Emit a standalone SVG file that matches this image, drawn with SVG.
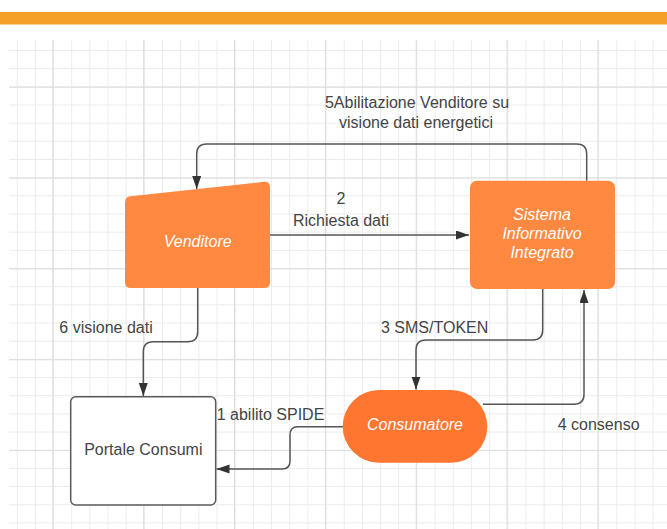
<svg xmlns="http://www.w3.org/2000/svg" width="667" height="529" viewBox="0 0 667 529">
  <style>
    .lbl { font-family: "Liberation Sans", Arial, sans-serif; font-size: 16px; fill: #444444; }
    .node-txt { font-family: "Liberation Sans", Arial, sans-serif; font-size: 16px; font-style: italic; fill: #ffffff; text-anchor: middle; }
    .edge { fill: none; stroke: #555555; stroke-width: 1.5; marker-end: url(#arrow); }
    .proc { fill: #ff8940; }
  </style>
  <defs>
    <pattern id="minor" x="16.7" y="50" width="18.17" height="18.17" patternUnits="userSpaceOnUse">
      <rect x="0" y="0" width="1" height="18.17" fill="#ebebeb"/>
      <rect x="0" y="0" width="18.17" height="1" fill="#ebebeb"/>
    </pattern>
    <pattern id="major" x="52.3" y="86.7" width="90.85" height="90.85" patternUnits="userSpaceOnUse">
      <rect x="0" y="0" width="1" height="90.85" fill="#dcdcdc"/>
      <rect x="0" y="0" width="90.85" height="1" fill="#dcdcdc"/>
    </pattern>
    <marker id="arrow" markerUnits="userSpaceOnUse" markerWidth="14" markerHeight="10" refX="13" refY="4.5" orient="auto">
      <path d="M0,0 L13,4.5 L0,9 Z" fill="#333333"/>
    </marker>
  </defs>

  <!-- page background, header band and grid -->
  <rect x="0" y="0" width="667" height="529" fill="#ffffff"/>
  <rect x="0" y="12" width="667" height="12.5" fill="#f5a129"/>
  <rect x="9" y="40" width="658" height="489" fill="url(#minor)"/>
  <rect x="9" y="40" width="658" height="489" fill="url(#major)"/>

  <!-- connectors -->
  <g id="connectors">
    <path class="edge" d="M586.7,180.7 V154 Q586.7,144 576.7,144 H206.7 Q196.7,144 196.7,154 V189"/>
    <path class="edge" d="M270,235 H469"/>
    <path class="edge" d="M197.7,288 V331.7 Q197.7,341.7 187.7,341.7 H153.3 Q143.3,341.7 143.3,351.7 V396"/>
    <path class="edge" d="M542.7,289 V330 Q542.7,340 532.7,340 H426 Q416,340 416,350 V389.5"/>
    <path class="edge" d="M483,404.3 H574 Q584,404.3 584,394.3 V290"/>
    <path class="edge" d="M343,426.7 H298 Q290,426.7 290,434.7 V461 Q290,469 282,469 H216.5"/>
  </g>

  <!-- connector labels -->
  <g id="labels">
    <text class="lbl" x="417" y="108" text-anchor="middle">5Abilitazione Venditore su</text>
    <text class="lbl" x="416" y="128" text-anchor="middle">visione dati energetici</text>
    <text class="lbl" x="341" y="203.5" text-anchor="middle">2</text>
    <text class="lbl" x="341" y="225.5" text-anchor="middle">Richiesta dati</text>
    <text class="lbl" x="59.3" y="333">6 visione dati</text>
    <text class="lbl" x="381" y="333">3 SMS/TOKEN</text>
    <text class="lbl" x="216.7" y="419.5">1 abilito SPIDE</text>
    <text class="lbl" x="557.7" y="430">4 consenso</text>
  </g>

  <!-- nodes -->
  <g id="venditore">
    <path class="proc" d="M125,202.5 Q125,196.8 130.5,196.2 L264,181.8 Q270,181.2 270,187.5 V282 Q270,288 264,288 H131 Q125,288 125,282 Z"/>
    <text class="node-txt" x="197.7" y="247">Venditore</text>
  </g>

  <g id="sistema">
    <rect class="proc" x="470" y="180.7" width="145" height="108.3" rx="7" ry="7"/>
    <text class="node-txt" x="542" y="219.5">Sistema</text>
    <text class="node-txt" x="542" y="238.5">Informativo</text>
    <text class="node-txt" x="542" y="257.5">Integrato</text>
  </g>

  <g id="consumatore">
    <rect x="342.7" y="390" width="144.6" height="72.7" rx="36.3" ry="36.3" fill="#ff7631"/>
    <text class="node-txt" x="415" y="430">Consumatore</text>
  </g>

  <g id="portale">
    <rect x="70.7" y="396.7" width="145" height="108.3" rx="5" ry="5" fill="#ffffff" stroke="#5a5a5a" stroke-width="1.5"/>
    <text class="lbl" x="143.3" y="455" text-anchor="middle">Portale Consumi</text>
  </g>
</svg>
